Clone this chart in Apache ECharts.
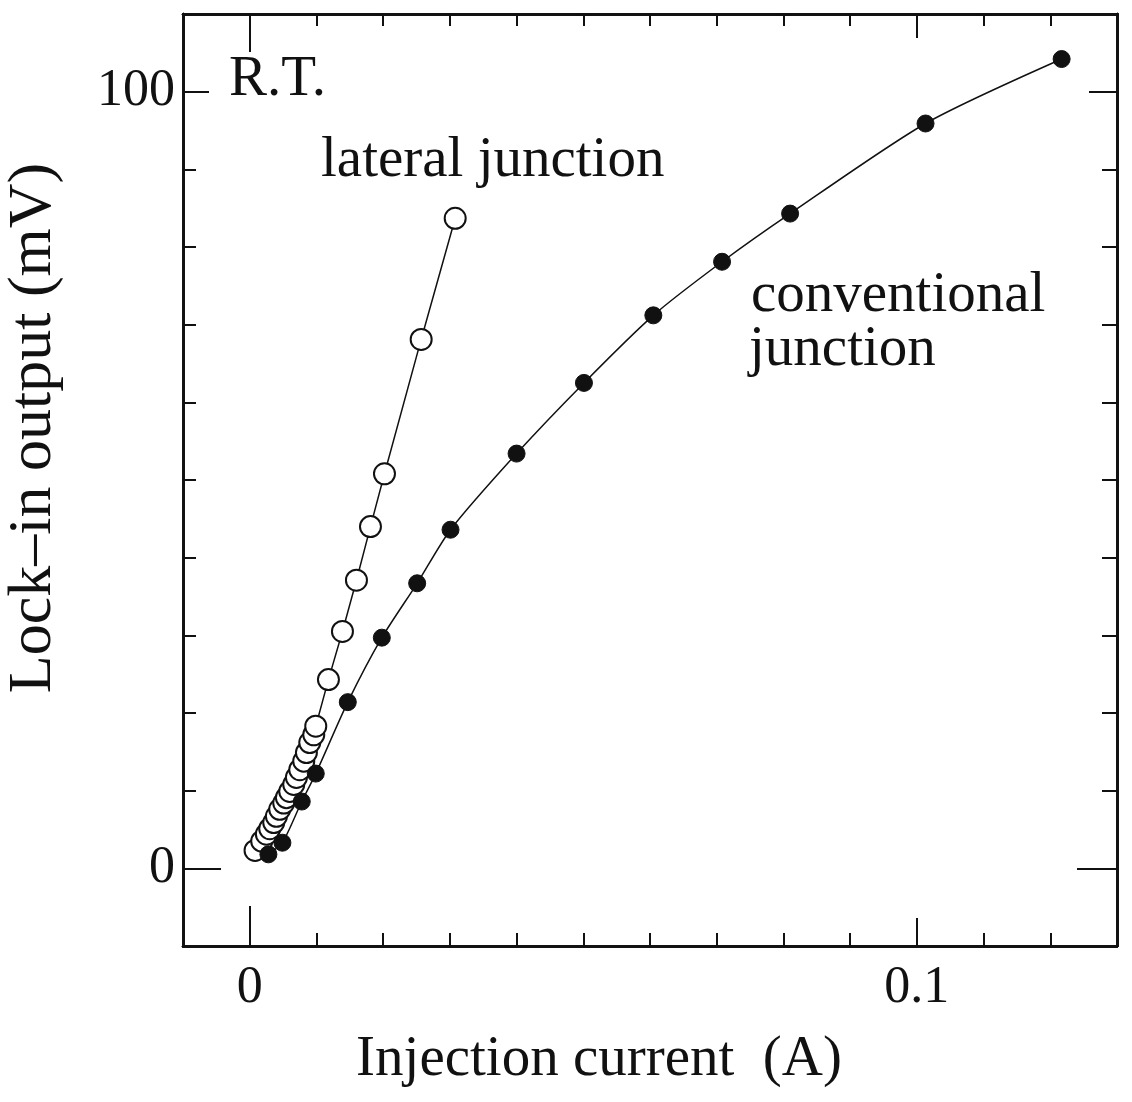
<!DOCTYPE html>
<html>
<head>
<meta charset="utf-8">
<script src="https://cdn.jsdelivr.net/npm/echarts@6/dist/echarts.min.js"></script>
<style>
  html, body { margin: 0; padding: 0; background: #fff; }
  #chart { width: 1132px; height: 1102px; }
</style>
</head>
<body>
<div id="chart"></div>
<script>
// Lock-in output vs injection current at room temperature
const lateralCurrent = [0.0008, 0.0018, 0.0025, 0.0030, 0.0036, 0.0040, 0.0045, 0.0051, 0.0055,
  0.0060, 0.0066, 0.0070, 0.0075, 0.0081, 0.0085, 0.0090, 0.0096, 0.0099,
  0.0118, 0.0139, 0.0160, 0.0181, 0.0202, 0.0257, 0.0308];
const lateralOutput = [2.3, 3.5, 4.4, 5.1, 5.9, 6.7, 7.6, 8.4, 9.1,
  9.9, 10.8, 11.7, 12.7, 13.8, 14.9, 16.2, 17.2, 18.3,
  24.3, 30.5, 37.1, 44.0, 50.8, 68.1, 83.7];

const conventionalCurrent = [0.0028, 0.0049, 0.0078, 0.0099, 0.0147, 0.0198, 0.0251, 0.0301,
  0.0400, 0.0501, 0.0605, 0.0708, 0.0810, 0.1013, 0.1217];
const conventionalOutput = [1.8, 3.3, 8.6, 12.2, 21.4, 29.7, 36.7, 43.6,
  53.4, 62.5, 71.2, 78.1, 84.3, 95.9, 104.2];

// axis ranges and ticks
const xRange = [-0.01, 0.13];
const yRange = [-10, 110];
const xMinorTicks = [0.01, 0.02, 0.03, 0.04, 0.05, 0.06, 0.07, 0.08, 0.09, 0.11, 0.12];
const yMinorTicks = [10, 20, 30, 40, 50, 60, 70, 80, 90];
const xTickLabels = [0, 0.1];
const yTickLabels = [0, 100];

const FONT = '"Liberation Serif", "DejaVu Serif", serif';
const INK = '#111';

function makeAxis(dim, position, range, ticks, tickLen, labels, extra) {
  const ax = {
    type: 'value',
    position: position,
    min: range[0],
    max: range[1],
    offset: 0,
    splitLine: { show: false },
    axisLine: { show: true, onZero: false, lineStyle: { color: INK, width: 2.5 } },
    axisTick: {
      show: ticks.length > 0,
      inside: true,
      length: tickLen,
      customValues: ticks,
      lineStyle: { color: INK, width: 2 }
    },
    axisLabel: {
      show: !!labels,
      customValues: labels || [],
      color: INK,
      fontFamily: FONT,
      fontSize: 52,
      margin: dim === 'x' ? 16 : 8,
      formatter: v => String(v)
    }
  };
  return Object.assign(ax, extra || {});
}

const xAxes = [
  makeAxis('x', 'bottom', xRange, xMinorTicks, 13, null, {
    name: 'Injection current  (A)',
    nameLocation: 'middle',
    nameGap: 86,
    nameTextStyle: { fontFamily: FONT, fontSize: 57, color: INK, padding: [0, 102, 0, 0] }
  }),
  makeAxis('x', 'bottom', xRange, [0], 40, xTickLabels),
  makeAxis('x', 'bottom', xRange, [0.1], 28, null),
  makeAxis('x', 'top', xRange, xMinorTicks, 12, null),
  makeAxis('x', 'top', xRange, [0], 38, null),
  makeAxis('x', 'top', xRange, [0.1], 24, null)
];

const yAxes = [
  makeAxis('y', 'left', yRange, yMinorTicks, 13, null, {
    name: 'Lock\u2013in output (mV)',
    nameLocation: 'middle',
    nameGap: 118,
    nameTextStyle: { fontFamily: FONT, fontSize: 62, color: INK, padding: [0, 0, 0, 104] }
  }),
  makeAxis('y', 'left', yRange, [0], 38, yTickLabels),
  makeAxis('y', 'left', yRange, [100], 26, null),
  makeAxis('y', 'right', yRange, yMinorTicks, 15, null),
  makeAxis('y', 'right', yRange, [0], 40, null),
  makeAxis('y', 'right', yRange, [100], 28, null)
];

const lateralData = lateralCurrent.map((x, i) => [x, lateralOutput[i]]);
const conventionalData = conventionalCurrent.map((x, i) => [x, conventionalOutput[i]]);

const textStyle = { fontFamily: FONT, fontSize: 57, fill: INK };

const chart = echarts.init(document.getElementById('chart'), null, { renderer: 'canvas' });
chart.setOption({
  animation: false,
  backgroundColor: '#fff',
  grid: { left: 183, right: 15, top: 14, bottom: 156, containLabel: false, outerBoundsMode: 'none' },
  xAxis: xAxes,
  yAxis: yAxes,
  series: [
    {
      name: 'lateral junction',
      type: 'line',
      data: lateralData,
      xAxisIndex: 0,
      yAxisIndex: 0,
      symbol: 'circle',
      symbolSize: 21,
      showAllSymbol: true,
      lineStyle: { color: INK, width: 1.5 },
      itemStyle: { color: '#fff', borderColor: INK, borderWidth: 2 },
      z: 3
    },
    {
      name: 'conventional junction',
      type: 'line',
      data: conventionalData,
      xAxisIndex: 0,
      yAxisIndex: 0,
      smooth: 0.25,
      symbol: 'circle',
      symbolSize: 17,
      showAllSymbol: true,
      lineStyle: { color: INK, width: 1.5 },
      itemStyle: { color: INK, borderColor: INK, borderWidth: 1 },
      z: 4
    }
  ],
  graphic: [
    { type: 'text', left: 229, top: 52, style: Object.assign({ text: 'R.T.' }, textStyle) },
    { type: 'text', left: 321, top: 133, style: Object.assign({ text: 'lateral junction' }, textStyle) },
    { type: 'text', left: 751, top: 268, style: Object.assign({ text: 'conventional' }, textStyle) },
    { type: 'text', left: 749, top: 322, style: Object.assign({ text: 'junction' }, textStyle) }
  ]
});
</script>
</body>
</html>
